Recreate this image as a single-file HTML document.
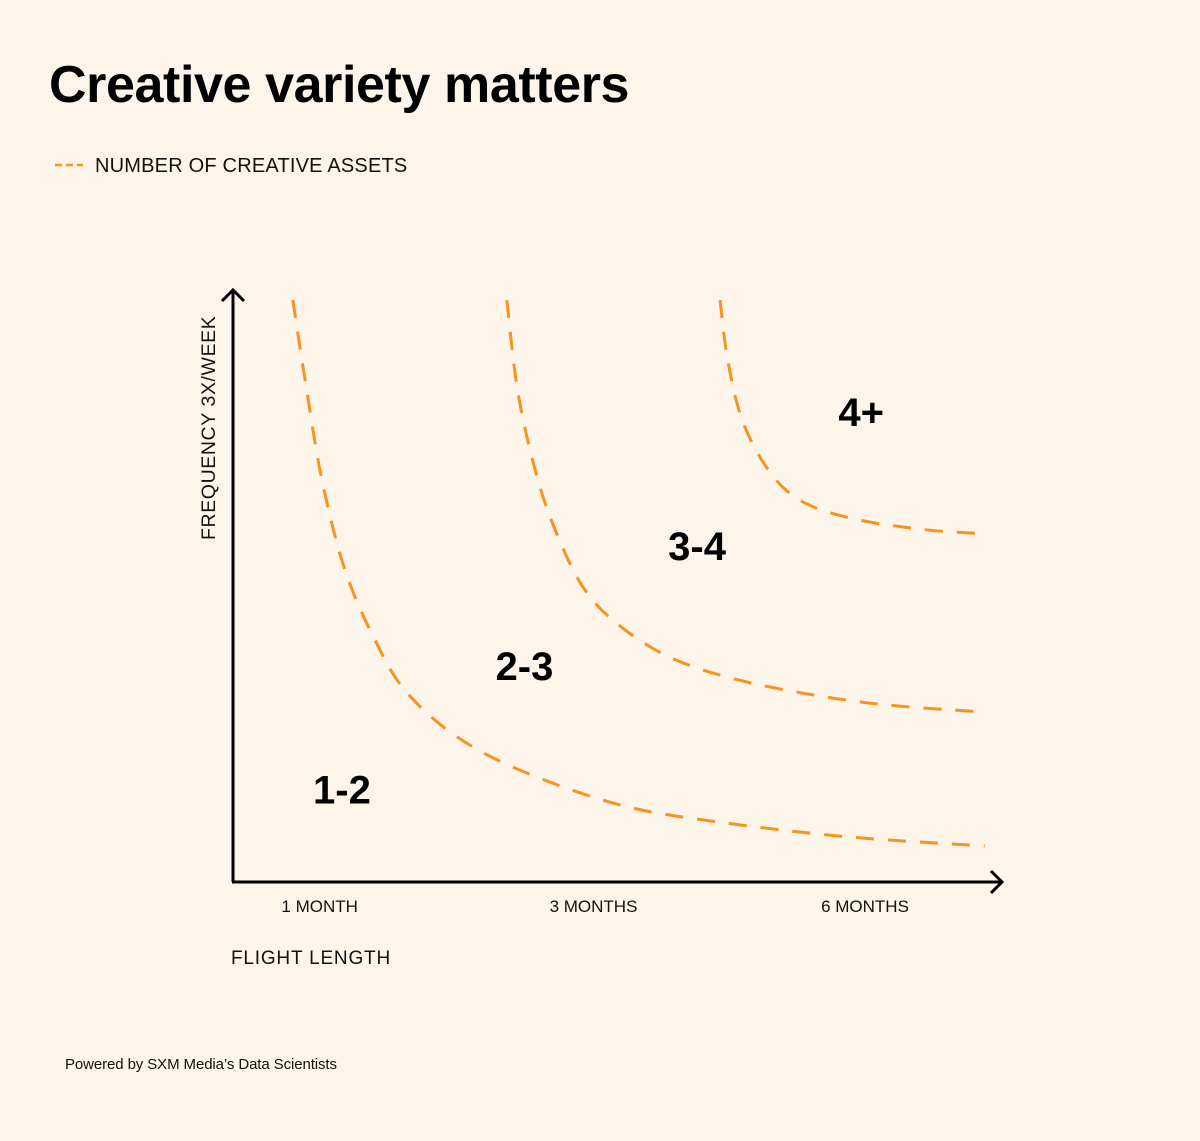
<!DOCTYPE html>
<html><head><meta charset="utf-8"><style>
html,body{margin:0;padding:0;background:#fdf5ea;}
body{width:1200px;height:1136px;position:relative;overflow:hidden;font-family:"Liberation Sans",sans-serif;}
</style></head><body>
<svg width="1200" height="1136" viewBox="0 0 1200 1136" xmlns="http://www.w3.org/2000/svg" id="svg">
<rect width="1200" height="1136" fill="#fdf5ea"/>
<text x="49" y="102" font-size="52" font-weight="bold" fill="#000" font-family="Liberation Sans, sans-serif" letter-spacing="-0.4">Creative variety matters</text>
<line x1="55" y1="165" x2="83" y2="165" stroke="#f7931e" stroke-width="2.5" stroke-dasharray="7,4"/>
<text x="95" y="172" font-size="20" fill="#111" font-family="Liberation Sans, sans-serif" letter-spacing="0.2">NUMBER OF CREATIVE ASSETS</text>
<g id="axes">
<line x1="233" y1="290" x2="233" y2="882" stroke="#000" stroke-width="3"/>
<polyline points="222,301 233,290 244,301" fill="none" stroke="#000" stroke-width="3"/>
<line x1="232" y1="882" x2="1002" y2="882" stroke="#000" stroke-width="3"/>
<polyline points="991,871 1002,882 991,893" fill="none" stroke="#000" stroke-width="3"/>
</g>
<text transform="translate(215,540) rotate(-90)" font-size="19.5" fill="#111" font-family="Liberation Sans, sans-serif" letter-spacing="0.6">FREQUENCY 3X/WEEK</text>
<text x="231" y="964" font-size="19" fill="#111" font-family="Liberation Sans, sans-serif" letter-spacing="0.8">FLIGHT LENGTH</text>
<g id="xticks"></g>
<g id="curves"></g>
<g id="zones"></g>
<text x="65" y="1069" font-size="15" fill="#111" font-family="Liberation Sans, sans-serif" letter-spacing="-0.1">Powered by SXM Media’s Data Scientists</text>
</svg>
<script>
const tickLabels=["1 MONTH","3 MONTHS","6 MONTHS"];
const tickValues=[11.3,47,82.4];
const curve1X=[7.8,9.4,11.6,14.6,18.5,22.4,28.9,37.4,50.5,63.5,80.4,98.0];
const curve1Y=[98.3,84.8,67.9,52.7,40.9,32.4,24.8,18.9,13.0,10.1,7.6,6.1];
const curve2X=[35.7,37.1,39.4,42.0,45.9,51.1,58.3,68.7,83.1,98.0];
const curve2Y=[98.3,83.1,69.6,59.5,49.3,42.6,37.2,33.3,30.2,28.7];
const curve3X=[63.5,64.5,66.4,69.8,73.9,80.4,89.6,98.0];
const curve3Y=[98.3,88.2,78.0,69.6,64.5,61.5,59.6,58.8];
const zoneLabels=["1-2","2-3","3-4","4+"];
const zoneX=[14.2,38.0,60.5,81.9];
const zoneY=[13.6,34.5,54.7,77.4];
const NS="http://www.w3.org/2000/svg";
const xs=v=>233+v*7.67, ys=v=>882-v*5.92;
const tg=document.getElementById('xticks');
tickLabels.forEach((t,i)=>{const e=document.createElementNS(NS,'text');


e.setAttribute('x',xs(tickValues[i]));e.setAttribute('y',912);e.setAttribute('text-anchor','middle');
e.setAttribute('font-size','17');e.setAttribute('fill','#111');e.setAttribute('font-family','Liberation Sans, sans-serif');
e.textContent=t;tg.appendChild(e);});
function path(X,Y){const p=X.map((x,i)=>[xs(x),ys(Y[i])]);let d='M'+p[0][0]+','+p[0][1];
for(let i=0;i<p.length-1;i++){const p0=p[i-1]||p[i],p1=p[i],p2=p[i+1],p3=p[i+2]||p2;
d+=` C${p1[0]+(p2[0]-p0[0])/6},${p1[1]+(p2[1]-p0[1])/6} ${p2[0]-(p3[0]-p1[0])/6},${p2[1]-(p3[1]-p1[1])/6} ${p2[0]},${p2[1]}`;}return d;}
const cg=document.getElementById('curves');
[[curve1X,curve1Y],[curve2X,curve2Y],[curve3X,curve3Y]].forEach((c,i)=>{const e=document.createElementNS(NS,'path');


e.setAttribute('d',path(c[0],c[1]));e.setAttribute('fill','none');e.setAttribute('stroke','#f7931e');
e.setAttribute('stroke-width','3');e.setAttribute('stroke-dasharray','18,14');cg.appendChild(e);});
const zg=document.getElementById('zones');
zoneLabels.forEach((t,i)=>{const e=document.createElementNS(NS,'text');


e.setAttribute('x',xs(zoneX[i]));e.setAttribute('y',ys(zoneY[i])+2);e.setAttribute('text-anchor','middle');
e.setAttribute('font-size','40');e.setAttribute('font-weight','bold');e.setAttribute('fill','#000');
e.setAttribute('font-family','Liberation Sans, sans-serif');e.textContent=t;zg.appendChild(e);});
</script>
</body></html>
